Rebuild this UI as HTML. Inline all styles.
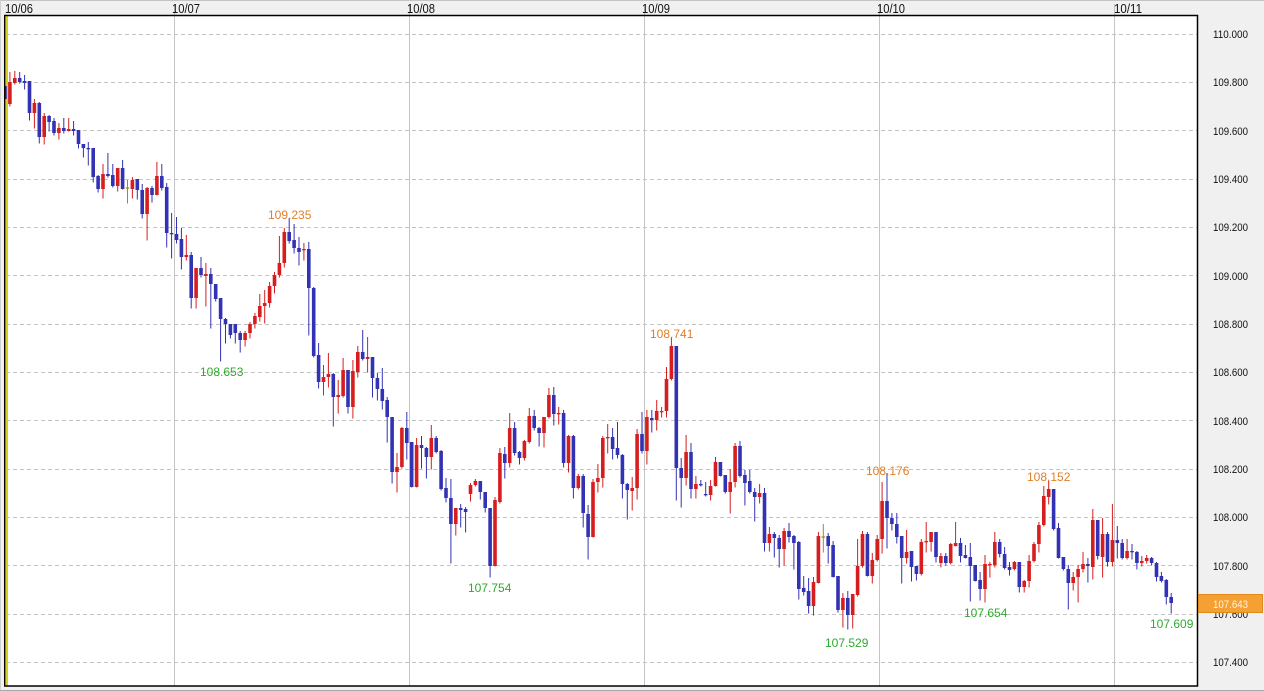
<!DOCTYPE html>
<html><head><meta charset="utf-8"><style>
html,body{margin:0;padding:0;background:#f0f0f0;}
svg{display:block;}
text{font-family:"Liberation Sans",sans-serif;}
</style></head><body>
<svg id="s" width="1264" height="691" viewBox="0 0 1264 691" xmlns="http://www.w3.org/2000/svg">
<defs><clipPath id="clip"><rect x="5.5" y="16" width="1191.5" height="669.5"/></clipPath></defs>
<rect width="1264" height="691" fill="#f0f0f0"/>
<line x1="0" y1="0.5" x2="1264" y2="0.5" stroke="#c4c4c4"/>
<line x1="0.5" y1="0" x2="0.5" y2="691" stroke="#d0d0d0"/>
<line x1="0" y1="690.5" x2="1264" y2="690.5" stroke="#a8a8a8"/>
<rect x="5" y="15.5" width="1192.5" height="670.5" fill="#ffffff"/>
<g stroke="#c4c4c4" stroke-width="1">
<line x1="174.5" y1="4" x2="174.5" y2="686"/>
<line x1="409.5" y1="4" x2="409.5" y2="686"/>
<line x1="644.5" y1="4" x2="644.5" y2="686"/>
<line x1="879.5" y1="4" x2="879.5" y2="686"/>
<line x1="1114.5" y1="4" x2="1114.5" y2="686"/>
</g>
<g stroke="#c4c4c4" stroke-width="1" stroke-dasharray="4,3">
<line x1="6" y1="34.5" x2="1197" y2="34.5"/>
<line x1="6" y1="82.5" x2="1197" y2="82.5"/>
<line x1="6" y1="130.5" x2="1197" y2="130.5"/>
<line x1="6" y1="179.5" x2="1197" y2="179.5"/>
<line x1="6" y1="227.5" x2="1197" y2="227.5"/>
<line x1="6" y1="275.5" x2="1197" y2="275.5"/>
<line x1="6" y1="324.5" x2="1197" y2="324.5"/>
<line x1="6" y1="372.5" x2="1197" y2="372.5"/>
<line x1="6" y1="420.5" x2="1197" y2="420.5"/>
<line x1="6" y1="469.5" x2="1197" y2="469.5"/>
<line x1="6" y1="517.5" x2="1197" y2="517.5"/>
<line x1="6" y1="565.5" x2="1197" y2="565.5"/>
<line x1="6" y1="614.5" x2="1197" y2="614.5"/>
<line x1="6" y1="662.5" x2="1197" y2="662.5"/>
</g>
<line x1="7" y1="16" x2="7" y2="686" stroke="#b8b000" stroke-width="2"/>
<line x1="7" y1="16" x2="7" y2="686" stroke="#f4f040" stroke-width="1"/>
<g id="candles" clip-path="url(#clip)"></g>
<rect x="4.75" y="15.5" width="1192.75" height="670.5" fill="none" stroke="#000" stroke-width="1.5"/>
<g font-size="13" fill="#111">
<text x="5" y="13" textLength="28" lengthAdjust="spacingAndGlyphs">10/06</text>
<text x="172" y="13" textLength="28" lengthAdjust="spacingAndGlyphs">10/07</text>
<text x="407" y="13" textLength="28" lengthAdjust="spacingAndGlyphs">10/08</text>
<text x="642" y="13" textLength="28" lengthAdjust="spacingAndGlyphs">10/09</text>
<text x="877" y="13" textLength="28" lengthAdjust="spacingAndGlyphs">10/10</text>
<text x="1114" y="13" textLength="28" lengthAdjust="spacingAndGlyphs">10/11</text>
</g>
<g font-size="11" fill="#111">
<text x="1213" y="38" textLength="35" lengthAdjust="spacingAndGlyphs">110.000</text>
<text x="1213" y="86" textLength="35" lengthAdjust="spacingAndGlyphs">109.800</text>
<text x="1213" y="135" textLength="35" lengthAdjust="spacingAndGlyphs">109.600</text>
<text x="1213" y="183" textLength="35" lengthAdjust="spacingAndGlyphs">109.400</text>
<text x="1213" y="231" textLength="35" lengthAdjust="spacingAndGlyphs">109.200</text>
<text x="1213" y="280" textLength="35" lengthAdjust="spacingAndGlyphs">109.000</text>
<text x="1213" y="328" textLength="35" lengthAdjust="spacingAndGlyphs">108.800</text>
<text x="1213" y="376" textLength="35" lengthAdjust="spacingAndGlyphs">108.600</text>
<text x="1213" y="425" textLength="35" lengthAdjust="spacingAndGlyphs">108.400</text>
<text x="1213" y="473" textLength="35" lengthAdjust="spacingAndGlyphs">108.200</text>
<text x="1213" y="521" textLength="35" lengthAdjust="spacingAndGlyphs">108.000</text>
<text x="1213" y="570" textLength="35" lengthAdjust="spacingAndGlyphs">107.800</text>
<text x="1213" y="618" textLength="35" lengthAdjust="spacingAndGlyphs">107.600</text>
<text x="1213" y="666" textLength="35" lengthAdjust="spacingAndGlyphs">107.400</text>
</g>
<rect x="1198.5" y="594.5" width="64" height="18" fill="#f5a033" stroke="#e08a1c"/>
<text x="1213" y="608" font-size="11" fill="#fff6e0" textLength="35" lengthAdjust="spacingAndGlyphs">107.643</text>
<g font-size="12" fill="#e07f2a">
<text x="268" y="219">109.235</text>
<text x="650" y="338">108.741</text>
<text x="866" y="475">108.176</text>
<text x="1027" y="481">108.152</text>
</g>
<g font-size="12" fill="#2eaa2e">
<text x="200" y="376">108.653</text>
<text x="468" y="592">107.754</text>
<text x="825" y="647">107.529</text>
<text x="964" y="617">107.654</text>
<text x="1150" y="628">107.609</text>
</g>
</svg>
<script>
const raw=`B 86 99 83 99
R 82 104 72 106
R 78 83 71 84
B 78 82 72 83
B 81 83 75 89
B 81 113 81 120
R 103 113 99 128
B 103 137 102 143
R 116 137 113 144
B 116 122 115 131
B 121 133 118 135
R 128 133 123 139
B 128 131 118 133
R 129 131 118 131
B 129 131 121 135
B 130 144 130 148
B 144 148 144 157
B 148 149 142 165
B 148 177 148 182
B 176 189 175 192
R 174 189 164 198
B 174 176 153 177
B 175 186 164 187
R 168 186 168 191
B 168 189 160 189
D 188 188 180 203
R 180 189 177 198
B 179 190 179 199
B 190 214 184 218
R 188 214 187 240
B 188 195 186 202
R 176 195 162 195
B 176 188 164 190
B 187 233 183 247
B 233 234 213 258
B 234 240 217 243
B 239 257 228 269
R 255 257 235 260
B 255 298 252 308
R 268 298 268 308
B 268 275 257 277
R 274 276 263 306
B 274 284 268 328
B 284 299 284 301
B 298 319 298 361
B 319 324 318 343
B 324 335 324 338
B 324 333 324 343
B 333 340 331 352
R 333 340 331 346
R 324 333 322 338
R 316 324 313 328
R 306 317 294 321
R 303 306 290 323
R 286 303 282 307
R 275 286 272 293
R 263 275 236 277
R 232 263 228 267
B 232 241 218 243
B 240 248 224 253
B 248 252 237 265
R 249 250 243 260
B 249 288 242 335
B 288 356 287 357
B 355 382 343 388
R 377 382 365 395
R 374 377 353 387
B 374 397 373 426
R 395 397 380 413
R 370 396 358 397
B 370 407 370 413
R 371 407 360 418
R 352 372 346 377
B 352 359 330 360
R 357 359 337 372
B 357 378 357 397
B 378 389 373 400
B 389 401 368 409
B 400 417 397 442
B 417 472 417 483
R 467 472 453 492
R 428 467 427 468
B 428 443 412 459
B 442 487 442 487
R 445 487 438 487
B 445 448 436 468
B 448 457 447 478
R 438 457 425 469
B 438 452 436 453
B 451 489 450 490
B 488 498 478 502
B 498 524 479 563
R 508 524 508 535
B 508 510 504 527
B 509 512 507 532
R 485 494 483 501
R 481 485 479 486
B 481 492 481 499
B 492 508 492 512
B 508 566 508 577
R 500 566 497 566
R 453 502 448 503
B 454 463 447 478
R 428 463 413 467
B 428 453 422 455
B 452 458 451 464
R 441 458 440 460
R 416 442 408 443
B 416 428 410 430
B 428 433 427 446
R 417 433 417 447
R 395 417 388 418
B 395 414 387 425
R 413 414 407 424
B 413 463 410 467
R 436 463 435 472
B 436 488 435 498
R 476 488 474 489
B 476 513 474 527
B 514 537 505 559
R 482 537 479 537
R 478 482 464 492
R 438 478 436 487
R 437 438 424 453
B 437 449 428 459
B 448 455 422 458
B 455 484 454 498
B 484 490 483 519
R 488 491 477 510
R 434 488 429 499
B 434 451 412 453
R 417 451 410 464
B 418 420 410 432
R 411 420 400 430
R 411 412 407 417
R 379 411 367 417
R 346 379 337 380
B 346 468 346 500
B 468 478 458 507
R 452 478 435 485
B 452 489 443 498
R 484 489 476 498
B 484 485 480 486
B 494 495 482 496
R 486 495 480 500
R 462 486 457 486
B 462 476 462 476
B 475 492 475 493
R 482 492 469 513
R 446 482 443 487
B 446 476 441 477
B 475 483 470 505
B 481 492 470 493
B 492 497 488 521
R 493 497 484 503
B 493 543 488 551
R 534 543 527 551
B 534 538 532 557
B 538 549 535 567
R 531 549 528 565
B 531 537 523 542
B 536 543 535 569
B 542 589 541 599
B 588 592 576 595
B 591 606 578 613
R 582 606 577 615
R 536 583 532 583
D 537 537 524 552
B 536 546 533 563
B 545 577 541 577
B 576 610 576 612
R 598 610 593 627
B 598 615 591 629
R 594 615 594 628
R 566 595 539 596
R 534 566 531 567
B 534 576 532 576
R 560 576 553 583
R 539 560 535 561
R 501 539 482 553
B 501 518 473 548
B 518 524 513 530
B 524 537 513 543
B 536 558 536 583
R 552 558 530 563
B 551 567 551 581
B 566 574 566 580
R 542 574 539 575
R 541 542 522 552
R 532 542 532 551
B 532 557 532 562
R 556 563 553 567
B 556 563 553 565
R 544 563 543 564
R 543 546 522 546
B 543 556 538 562
B 555 558 545 558
B 557 566 543 601
B 565 581 565 581
B 580 589 572 600
R 564 589 555 602
R 564 565 562 577
R 542 565 532 567
B 542 554 539 557
B 554 568 547 569
B 567 570 562 575
R 562 569 561 570
B 562 587 562 592
R 581 587 580 592
R 561 581 555 587
R 544 561 542 562
R 525 544 522 552
R 496 525 486 526
R 489 497 481 504
B 489 529 489 530
B 528 558 523 558
B 557 569 557 570
B 569 583 565 609
R 577 583 572 590
R 569 577 565 602
R 564 569 552 572
B 564 566 558 582
R 520 567 509 579
B 520 556 520 559
R 534 557 518 577
B 534 562 532 566
R 540 562 504 566
B 540 543 526 558
B 543 558 539 559
R 551 558 539 559
B 551 552 544 559
B 552 563 551 569
R 561 563 556 566
R 558 561 555 563
B 558 563 557 565
B 563 577 562 581
B 576 581 572 582
B 580 597 579 604
B 597 603 593 613`;
const NS="http://www.w3.org/2000/svg";
const g=document.getElementById("candles");
const col={B:"#3232b4",R:"#d61e1e",D:"#a08a20"};
raw.trim().split("\n").forEach((l,i)=>{
  const p=l.trim().split(/\s+/);
  const c=col[p[0]];const a=+p[1],b=+p[2],h=+p[3],lo=+p[4];
  const x=5+i*4.9;
  const w=document.createElementNS(NS,"line");
  w.setAttribute("x1",x);w.setAttribute("x2",x);
  w.setAttribute("y1",h);w.setAttribute("y2",lo+0.5);
  w.setAttribute("stroke",c);w.setAttribute("stroke-width","1");
  g.appendChild(w);
  const r=document.createElementNS(NS,"rect");
  const hh=Math.max(b-a,1.3);
  r.setAttribute("x",x-1.8);r.setAttribute("width",3.6);
  r.setAttribute("y",p[0]==="D"?a-0.6:a);r.setAttribute("height",hh);
  r.setAttribute("fill",c);
  g.appendChild(r);
});
</script>
</body></html>
